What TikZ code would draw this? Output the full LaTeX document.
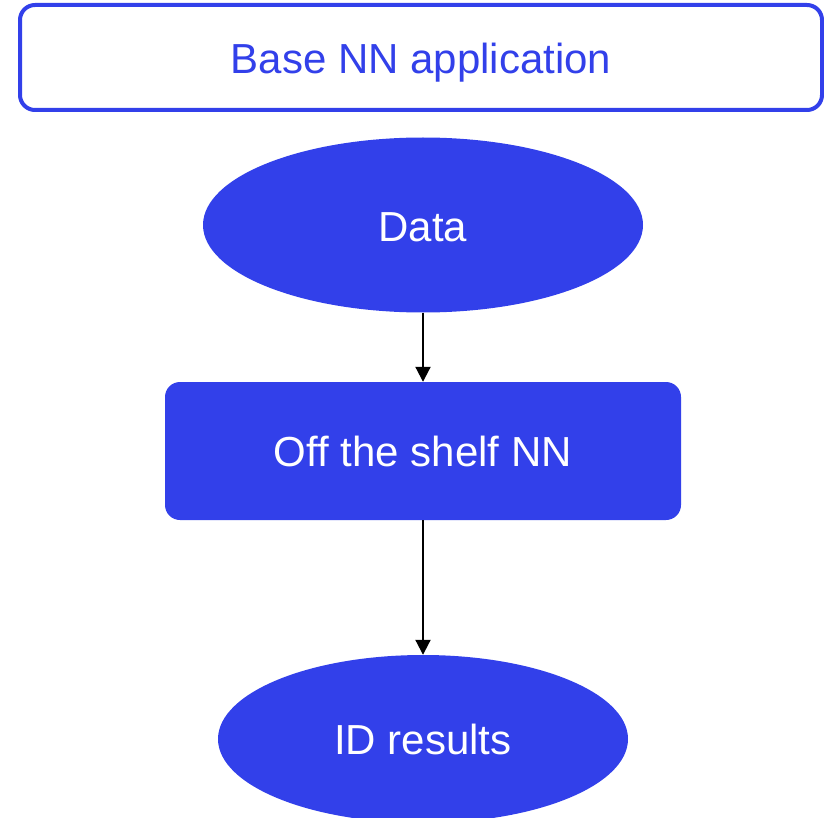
\documentclass[tikz,border=0pt]{standalone}
\usepackage{fontspec}
\setmainfont{Liberation Sans}
\usetikzlibrary{shapes.geometric,arrows.meta}
\definecolor{nnblue}{RGB}{50,64,234}
% shift a label down without changing its box size
\newcommand{\lowertext}[2]{\raisebox{-#1}[\height][\depth]{#2}}
\begin{document}
\begin{tikzpicture}[x=1pt,y=-1pt,
  every node/.style={font=\fontsize{42}{50}\selectfont, inner sep=0pt},
  titlebox/.style={draw=nnblue, line width=4pt, rounded corners=15pt, fill=white,
    text=nnblue, minimum width=802pt, minimum height=105pt},
  blob/.style={ellipse, fill=nnblue, text=white},
  procbox/.style={rectangle, rounded corners=15pt, fill=nnblue, text=white,
    minimum width=516pt, minimum height=138pt},
  flow/.style={line width=2pt, -{Triangle[length=15pt,width=15pt]}}]
\useasboundingbox (0,0) rectangle (824,818);
\node[titlebox] (title) at (421,57.5) {\lowertext{5pt}{Base NN application}};
\node[blob, minimum width=440pt, minimum height=175pt] (data) at (423,225) {\lowertext{2pt}{Data}};
\node[procbox] (nn) at (423,451) {Off the shelf NN};
\node[blob, minimum width=410pt, minimum height=168pt] (res) at (423,739) {ID results};
\draw[flow] (data.south) -- (nn.north);
\draw[flow] (nn.south) -- (res.north);
\end{tikzpicture}
\end{document}
